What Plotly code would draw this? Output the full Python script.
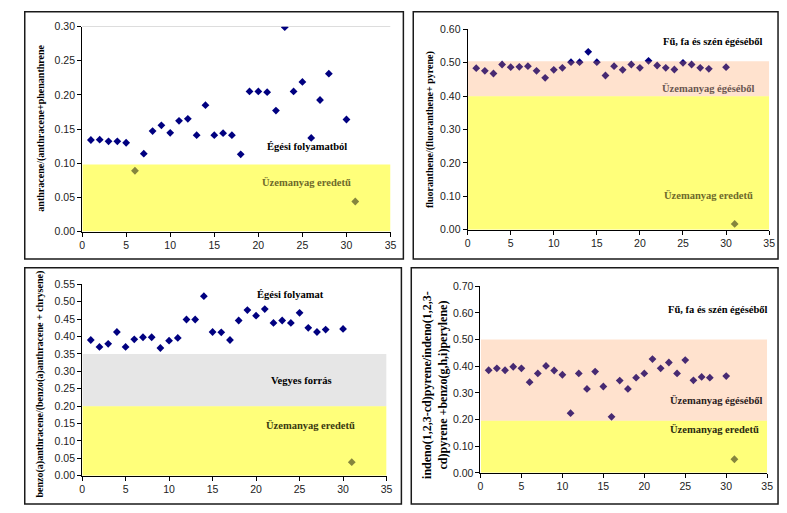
import plotly.graph_objects as go

W, H = 787, 513

# ---------------- data ----------------
x_all = [1, 2, 3, 4, 5, 6, 7, 8, 9, 10, 11, 12, 13, 14, 15, 16, 17, 18, 19, 20,
         21, 22, 23, 24, 25, 26, 27, 28, 30, 31]

ant_phe = [0.134, 0.1345, 0.132, 0.132, 0.130, 0.089, 0.114, 0.147, 0.1555, 0.1445,
           0.162, 0.165, 0.141, 0.185, 0.141, 0.144, 0.141, 0.113, 0.205, 0.205,
           0.204, 0.177, 0.299, 0.205, 0.219, 0.137, 0.1925, 0.231, 0.164, 0.044]

fla_pyr = [0.484, 0.476, 0.468, 0.495, 0.487, 0.488, 0.490, 0.476, 0.455, 0.479,
           0.485, 0.502, 0.502, 0.533, 0.502, 0.462, 0.490, 0.479, 0.495, 0.485,
           0.506, 0.492, 0.485, 0.480, 0.500, 0.495, 0.485, 0.482, 0.487, 0.017]

baa_chr = [0.390, 0.370, 0.379, 0.413, 0.370, 0.392, 0.398, 0.398, 0.367, 0.388,
           0.396, 0.449, 0.449, 0.516, 0.413, 0.412, 0.390, 0.446, 0.476, 0.460,
           0.479, 0.439, 0.446, 0.439, 0.468, 0.425, 0.413, 0.420, 0.422, 0.039]

ind_bgp = [0.385, 0.392, 0.385, 0.398, 0.392, 0.340, 0.373, 0.401, 0.384, 0.368,
           0.224, 0.373, 0.315, 0.380, 0.324, 0.210, 0.346, 0.315, 0.357, 0.373,
           0.427, 0.392, 0.414, 0.373, 0.423, 0.347, 0.360, 0.357, 0.363, 0.051]

x_ticks = [0, 5, 10, 15, 20, 25, 30, 35]

y_titles = [
    "anthracene/(anthracene+phenanthrene",
    "fluoranthene/(fluoranthene+ pyrene)",
    "benzo(a)anthracene/(benzo(a)anthracene + chrysene)",
    "indeno(1,2,3-cd)pyrene/indeno(1,2,3-<br>cd)pyrene +benzo(g,h,i)perylene)",
]

# ---------------- layout helpers ----------------
def px(xp):
    return xp / W

def py(yp):
    return 1 - yp / H

NAVY = "#000080"
TICKFONT = dict(family="Liberation Sans", size=10.5, color="#222")
SERIF_B = "Liberation Serif"

fig = go.Figure()

panels = [
    ("x", "y", ant_phe, (80, 392), (21, 231), 0.30, 0.05),
    ("x2", "y2", fla_pyr, (470, 775), (24, 229), 0.60, 0.10),
    ("x3", "y3", baa_chr, (80, 388), (285, 481), 0.55, 0.05),
    ("x4", "y4", ind_bgp, (483, 773), (287, 478), 0.70, 0.10),
]

layout = dict(
    width=W, height=H,
    margin=dict(l=0, r=0, t=0, b=0),
    paper_bgcolor="white", plot_bgcolor="white",
    showlegend=False,
)

for i, (xa, ya, vals, (x0, x1), (yt, yb), ymax, dt) in enumerate(panels):
    fig.add_trace(go.Scatter(
        x=x_all, y=vals, mode="markers", xaxis=xa, yaxis=ya,
        marker=dict(symbol="diamond", size=6, color=NAVY),
        hoverinfo="skip",
    ))
    kx = "xaxis" if i == 0 else f"xaxis{i+1}"
    ky = "yaxis" if i == 0 else f"yaxis{i+1}"
    layout[kx] = dict(
        domain=[px(x0), px(x1)], range=[0, 35], tickvals=x_ticks,
        showgrid=False, zeroline=False, showline=True, linecolor="black",
        linewidth=1, ticks="outside", ticklen=4, tickcolor="black",
        tickfont=TICKFONT, anchor=ya, fixedrange=True,
    )
    layout[ky] = dict(
        domain=[py(yb), py(yt)], range=[0, ymax], dtick=dt, tick0=0,
        tickformat=".2f", showgrid=False, zeroline=False, showline=True,
        linecolor="black", linewidth=1, ticks="outside", ticklen=4,
        tickcolor="black", tickfont=TICKFONT, anchor=xa, fixedrange=True,
    )

fig.update_layout(**layout)

YEL = "rgba(255,255,0,0.52)"
ORA = "rgba(255,150,80,0.28)"
GRY = "rgba(200,200,200,0.45)"

shapes = []

def region(xa, ya, y0, y1, color):
    shapes.append(dict(type="rect", xref=xa, yref=ya, x0=0.05, x1=35, y0=y0, y1=y1,
                       fillcolor=color, line=dict(width=0), layer="above"))

region("x", "y", 0, 0.098, YEL)
shapes.append(dict(type="line", xref="x", yref="y", x0=0, x1=35, y0=0.30, y1=0.30,
                   line=dict(color="#BBBBBB", width=1.2)))
region("x2", "y2", 0.40, 0.505, ORA)
region("x2", "y2", 0, 0.40, YEL)
region("x3", "y3", 0.20, 0.35, GRY)
region("x3", "y3", 0, 0.20, YEL)
region("x4", "y4", 0.195, 0.50, ORA)
region("x4", "y4", 0, 0.195, YEL)

for (l, t, r, b) in [(22, 6, 405, 259), (415, 6, 784, 259),
                     (22, 268, 403, 510), (413, 268, 784, 510)]:
    shapes.append(dict(type="rect", xref="paper", yref="paper",
                       x0=px(l), x1=px(r), y0=py(b), y1=py(t),
                       line=dict(color="#1a1a1a", width=1.5), fillcolor="rgba(0,0,0,0)"))

fig.update_layout(shapes=shapes)

ann = []

def note(xa, ya, x, y, text, color="black", size=10.5, xanchor="center"):
    ann.append(dict(xref=xa, yref=ya, x=x, y=y, text=text, showarrow=False,
                    xanchor=xanchor, yanchor="middle",
                    font=dict(family=SERIF_B, size=size, color=color)))

OLIVE = "#6e6a2a"
BROWN = "#6a5650"

note("x", "y", 25.5, 0.125, "<b>Égési folyamatból</b>")
note("x", "y", 25.5, 0.073, "<b>Üzemanyag eredetű</b>", OLIVE)

note("x2", "y2", 34.5, 0.565, "<b>Fű, fa és szén égéséből</b>", xanchor="right")
note("x2", "y2", 28.0, 0.425, "<b>Üzemanyag égéséből</b>", BROWN)
note("x2", "y2", 28.0, 0.105, "<b>Üzemanyag eredetű</b>", OLIVE)

note("x3", "y3", 24.0, 0.52, "<b>Égési folyamat</b>")
note("x3", "y3", 25.2, 0.275, "<b>Vegyes forrás</b>")
note("x3", "y3", 26.3, 0.147, "<b>Üzemanyag eredetű</b>", "#3a3a10")

note("x4", "y4", 29.0, 0.612, "<b>Fű, fa és szén égéséből</b>")
note("x4", "y4", 28.8, 0.275, "<b>Üzemanyag égéséből</b>", "#2a2020")
note("x4", "y4", 28.6, 0.165, "<b>Üzemanyag eredetű</b>", "#2a2a10")

title_pos = [(39, 125, 10), (432, 127, 10), (37, 387, 10), (437, 388, 12)]
for (xp, yp, fs), txt in zip(title_pos, y_titles):
    ann.append(dict(xref="paper", yref="paper", x=px(xp), y=py(yp),
                    text=f"<b>{txt}</b>", showarrow=False, textangle=-90,
                    xanchor="center", yanchor="middle",
                    font=dict(family=SERIF_B, size=fs, color="black")))

fig.update_layout(annotations=ann)

fig.write_html(
    "out.html",
    config={"displayModeBar": False},
    post_script="document.body.style.margin='0';document.body.style.overflow='hidden';",
)
